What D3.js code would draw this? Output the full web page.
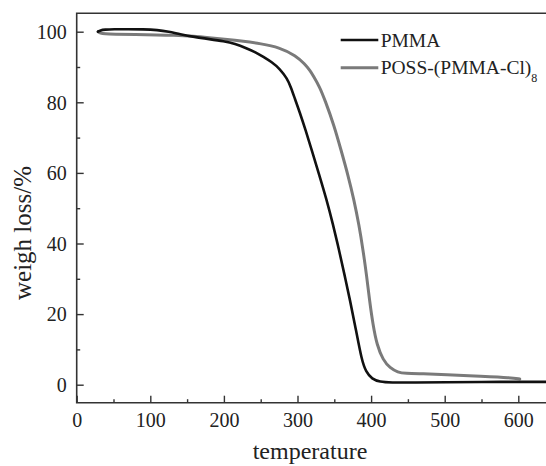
<!DOCTYPE html>
<html><head><meta charset="utf-8">
<script src="https://cdn.jsdelivr.net/npm/d3@7"></script>
<style>
html,body{margin:0;padding:0;background:#fff;}
svg{display:block;}
text{font-family:"Liberation Serif","Times New Roman",serif;fill:#222;}
</style></head>
<body>
<svg id="c" width="546" height="466"></svg>
<script>
const pmmaTemp = [29, 32, 38, 50, 70, 90, 110, 125, 140, 160, 180, 200, 215, 231, 243, 253.5, 265, 276, 286, 291, 296.6, 303, 311, 319.3, 329, 339.7, 348, 356.4, 364, 371.3, 379.5, 387.2, 393.1, 401.2, 412, 425.7, 460, 500, 550, 600, 650];
const pmmaW    = [100.0, 100.4, 100.6, 100.7, 100.7, 100.7, 100.5, 100.0, 99.3, 98.5, 97.9, 97.3, 96.6, 95.3, 94.2, 92.9, 91.4, 89.5, 86.7, 84.3, 80.9, 77.2, 72.1, 66.5, 59.8, 52.3, 45.6, 38.2, 31.0, 24.0, 15.5, 7.0, 3.6, 1.6, 0.8, 0.6, 0.6, 0.7, 0.8, 0.8, 0.8];
const possTemp = [29, 32, 38, 50, 80, 110, 130, 160, 180, 200, 227, 250, 275, 298, 310, 317, 322, 330, 337.4, 349.6, 359.1, 368.6, 376.8, 383.6, 389, 393.8, 397.8, 402.6, 408, 416.2, 425.7, 436.5, 446, 470, 500, 550, 590, 602];
const possW    = [100.0, 99.6, 99.4, 99.3, 99.2, 99.1, 99.0, 98.7, 98.3, 97.9, 97.3, 96.6, 95.6, 93.2, 90.8, 89.0, 87.3, 84.4, 80.6, 73.5, 66.5, 59.4, 52.3, 45.2, 38.2, 31.1, 24.0, 16.9, 11.2, 7.0, 4.7, 3.5, 3.2, 3.1, 2.9, 2.4, 2.0, 1.6];
const xTicks = [0, 100, 200, 300, 400, 500, 600];
const xMinor = [50, 150, 250, 350, 450, 550, 650];
const yTicks = [0, 20, 40, 60, 80, 100];
const yMinor = [10, 30, 50, 70, 90];
const seriesNames = ["PMMA", "POSS-(PMMA-Cl)"];
const seriesSub = ["", "8"];
const colors = ["#111111", "#7a7a7a"];

const svg = d3.select("#c");
const L = 76.7, T = 13.3, B = 402.7, R = 560;
const x = d3.scaleLinear().domain([0, 600]).range([L, 518.3]);
const y = d3.scaleLinear().domain([0, 100]).range([384.7, 31.7]);

// frame
svg.append("path")
  .attr("d", `M${R},${T}H${L}V${B}H${R}`)
  .attr("fill", "none").attr("stroke", "#333").attr("stroke-width", 1.6);

// x axis
const xa = svg.append("g").attr("transform", `translate(0,${B})`)
  .call(d3.axisBottom(x).tickValues(xTicks).tickSize(-7).tickPadding(0).tickFormat(d3.format("d")));
xa.select(".domain").remove();
xa.selectAll(".tick line").attr("stroke", "#333").attr("stroke-width", 1.4);
xa.selectAll(".tick text").attr("y", 24).attr("dy", 0).attr("font-size", 20)
  .style("font-family", '"Liberation Serif",serif').attr("fill", "#222");
const xm = svg.append("g").attr("transform", `translate(0,${B})`)
  .call(d3.axisBottom(x).tickValues(xMinor).tickSize(-3.5).tickFormat(""));
xm.select(".domain").remove();
xm.selectAll(".tick line").attr("stroke", "#333").attr("stroke-width", 1.4);

// y axis
const ya = svg.append("g").attr("transform", `translate(${L},0)`)
  .call(d3.axisLeft(y).tickValues(yTicks).tickSize(-7).tickPadding(10).tickFormat(d3.format("d")));
ya.select(".domain").remove();
ya.selectAll(".tick line").attr("stroke", "#333").attr("stroke-width", 1.4);
ya.selectAll(".tick text").attr("font-size", 20).attr("dy", "0.34em")
  .style("font-family", '"Liberation Serif",serif').attr("fill", "#222");
const ym = svg.append("g").attr("transform", `translate(${L},0)`)
  .call(d3.axisLeft(y).tickValues(yMinor).tickSize(-3.5).tickFormat(""));
ym.select(".domain").remove();
ym.selectAll(".tick line").attr("stroke", "#333").attr("stroke-width", 1.4);

// labels
svg.append("text").attr("x", 310).attr("y", 459).attr("text-anchor", "middle")
  .attr("font-size", 24).text("temperature");
svg.append("text").attr("transform", "translate(31,233) rotate(-90)")
  .attr("text-anchor", "middle").attr("font-size", 25).text("weigh loss/%");

// lines
const line = d3.line().x(d => x(d[0])).y(d => y(d[1])).curve(d3.curveBasis);
const series = [
  d3.zip(pmmaTemp, pmmaW),
  d3.zip(possTemp, possW)
];
const widths = [2.6, 3];
svg.append("defs").append("clipPath").attr("id", "clip")
  .append("rect").attr("x", L).attr("y", T).attr("width", R - L).attr("height", B - T);
series.slice().reverse().forEach((s, ri) => {
  const i = series.length - 1 - ri;
  svg.append("path").datum(s).attr("d", line).attr("fill", "none")
    .attr("stroke", colors[i]).attr("stroke-width", widths[i])
    .attr("stroke-linejoin", "round").attr("stroke-linecap", "round")
    .attr("clip-path", "url(#clip)");
});

// legend
const lg = svg.append("g");
seriesNames.forEach((n, i) => {
  const ly = 40 + i * 27.7;
  lg.append("line").attr("x1", 340.7).attr("x2", 378.3).attr("y1", ly).attr("y2", ly)
    .attr("stroke", colors[i]).attr("stroke-width", widths[i]);
  const t = lg.append("text").attr("x", 380.7).attr("y", ly + 6.7).attr("font-size", 19.5).text(n);
  if (seriesSub[i]) {
    t.append("tspan").attr("font-size", 12).attr("dy", 8).text(seriesSub[i]);
  }
});
</script>
</body></html>
